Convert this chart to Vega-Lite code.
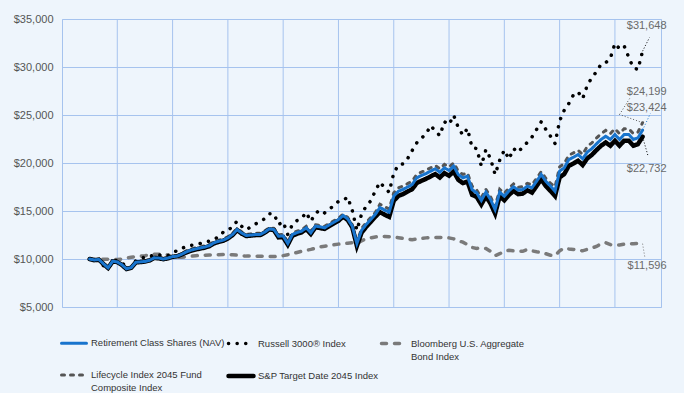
{
  "$schema": "https://vega.github.io/schema/vega-lite/v6.json",
  "width": 599,
  "height": 288,
  "autosize": {"type": "none"},
  "padding": {"left": 62, "top": 19, "right": 23, "bottom": 86},
  "background": "#eef5fc",
  "config": {
    "font": "Liberation Sans",
    "view": {"stroke": "#a6c3ee", "strokeWidth": 1},
    "legend": {
      "orient": "none",
      "direction": "horizontal",
      "legendX": -3,
      "legendY": 310,
      "columns": 3,
      "columnPadding": -6,
      "rowPadding": 0,
      "symbolType": "stroke",
      "symbolSize": 625,
      "labelFont": "Liberation Sans",
      "labelFontSize": 9.5,
      "labelColor": "#333333",
      "labelOffset": 2,
      "labelLimit": 300
    }
  },
  "datasets": {
    "grid": [{"m": 6}, {"m": 18}, {"m": 30}, {"m": 42}, {"m": 54}, {"m": 66}, {"m": 78}, {"m": 90}, {"m": 102}, {"m": 114}],
    "leaders": [
      {"s": "rus", "m": 120, "v": 31648, "m2": 121.5, "v2": 33073},
      {"s": "lc", "m": 120, "v": 24199, "m2": 115.0, "v2": 25052},
      {"s": "lc", "m": 115.0, "v": 25052, "m2": 117.2, "v2": 26719},
      {"s": "ret", "m": 120, "v": 23424, "m2": 121.7, "v2": 25156},
      {"s": "sp", "m": 120, "v": 22732, "m2": 121.2, "v2": 20708},
      {"s": "bbg", "m": 120, "v": 11596, "m2": 120.5, "v2": 10156}
    ],
    "ends": [
      {"m": 125.2, "v": 34220, "t": "$31,648"},
      {"m": 125.2, "v": 27375, "t": "$24,199"},
      {"m": 125.2, "v": 25780, "t": "$23,424"},
      {"m": 125.2, "v": 19427, "t": "$22,732"},
      {"m": 125.2, "v": 9219, "t": "$11,596"}
    ],
    "series": [
      {"m":0,"ret":10000,"rus":10000,"bbg":10000,"lc":10000,"sp":10000},
      {"m":1,"ret":9900,"rus":9750,"bbg":9960,"lc":9950,"sp":9880},
      {"m":2,"ret":9950,"rus":9900,"bbg":9950,"lc":10000,"sp":9930},
      {"m":3,"ret":9500,"rus":9300,"bbg":9970,"lc":9550,"sp":9480},
      {"m":4,"ret":9080,"rus":9050,"bbg":9980,"lc":9130,"sp":9060},
      {"m":5,"ret":9770,"rus":9800,"bbg":9960,"lc":9820,"sp":9750},
      {"m":6,"ret":9700,"rus":9850,"bbg":9950,"lc":9750,"sp":9680},
      {"m":7,"ret":9400,"rus":9650,"bbg":10000,"lc":9450,"sp":9380},
      {"m":8,"ret":8980,"rus":9100,"bbg":10100,"lc":9030,"sp":8960},
      {"m":9,"ret":9100,"rus":9100,"bbg":10180,"lc":9150,"sp":9080},
      {"m":10,"ret":9660,"rus":9800,"bbg":10250,"lc":9710,"sp":9640},
      {"m":11,"ret":9700,"rus":9950,"bbg":10300,"lc":9750,"sp":9680},
      {"m":12,"ret":9750,"rus":10250,"bbg":10350,"lc":9800,"sp":9730},
      {"m":13,"ret":9870,"rus":10350,"bbg":10430,"lc":9920,"sp":9850},
      {"m":14,"ret":10120,"rus":10300,"bbg":10500,"lc":10170,"sp":10100},
      {"m":15,"ret":10100,"rus":10430,"bbg":10500,"lc":10150,"sp":10080},
      {"m":16,"ret":10000,"rus":10300,"bbg":10480,"lc":10050,"sp":9980},
      {"m":17,"ret":10100,"rus":10350,"bbg":10450,"lc":10150,"sp":10080},
      {"m":18,"ret":10250,"rus":10600,"bbg":10150,"lc":10300,"sp":10230},
      {"m":19,"ret":10300,"rus":10900,"bbg":10160,"lc":10350,"sp":10280},
      {"m":20,"ret":10500,"rus":11100,"bbg":10180,"lc":10550,"sp":10480},
      {"m":21,"ret":10750,"rus":11300,"bbg":10250,"lc":10870,"sp":10690},
      {"m":22,"ret":10920,"rus":11430,"bbg":10300,"lc":11040,"sp":10860},
      {"m":23,"ret":11050,"rus":11500,"bbg":10340,"lc":11170,"sp":10990},
      {"m":24,"ret":11150,"rus":11620,"bbg":10380,"lc":11270,"sp":11090},
      {"m":25,"ret":11250,"rus":11800,"bbg":10400,"lc":11370,"sp":11190},
      {"m":26,"ret":11400,"rus":11850,"bbg":10420,"lc":11520,"sp":11340},
      {"m":27,"ret":11690,"rus":12050,"bbg":10440,"lc":11810,"sp":11630},
      {"m":28,"ret":11850,"rus":12300,"bbg":10450,"lc":11970,"sp":11790},
      {"m":29,"ret":11960,"rus":12800,"bbg":10470,"lc":12080,"sp":11900},
      {"m":30,"ret":12200,"rus":12950,"bbg":10480,"lc":12320,"sp":12140},
      {"m":31,"ret":12550,"rus":13400,"bbg":10440,"lc":12670,"sp":12490},
      {"m":32,"ret":13070,"rus":13940,"bbg":10400,"lc":13190,"sp":13010},
      {"m":33,"ret":12700,"rus":13400,"bbg":10350,"lc":12820,"sp":12640},
      {"m":34,"ret":12450,"rus":13050,"bbg":10300,"lc":12570,"sp":12390},
      {"m":35,"ret":12500,"rus":13350,"bbg":10300,"lc":12620,"sp":12440},
      {"m":36,"ret":12550,"rus":13650,"bbg":10300,"lc":12670,"sp":12490},
      {"m":37,"ret":12550,"rus":13900,"bbg":10290,"lc":12670,"sp":12490},
      {"m":38,"ret":12800,"rus":14200,"bbg":10280,"lc":12920,"sp":12740},
      {"m":39,"ret":13140,"rus":14710,"bbg":10260,"lc":13260,"sp":13080},
      {"m":40,"ret":13070,"rus":14700,"bbg":10250,"lc":13190,"sp":13010},
      {"m":41,"ret":12370,"rus":13590,"bbg":10300,"lc":12520,"sp":12250},
      {"m":42,"ret":12400,"rus":13880,"bbg":10350,"lc":12550,"sp":12280},
      {"m":43,"ret":11610,"rus":12550,"bbg":10450,"lc":11760,"sp":11490},
      {"m":44,"ret":12550,"rus":13590,"bbg":10550,"lc":12700,"sp":12430},
      {"m":45,"ret":12750,"rus":14000,"bbg":10680,"lc":12900,"sp":12630},
      {"m":46,"ret":12900,"rus":14220,"bbg":10800,"lc":13050,"sp":12780},
      {"m":47,"ret":13250,"rus":14850,"bbg":10900,"lc":13400,"sp":13130},
      {"m":48,"ret":12730,"rus":13920,"bbg":11000,"lc":12880,"sp":12610},
      {"m":49,"ret":13420,"rus":14750,"bbg":11130,"lc":13570,"sp":13300},
      {"m":50,"ret":13350,"rus":15100,"bbg":11250,"lc":13500,"sp":13230},
      {"m":51,"ret":13250,"rus":14810,"bbg":11330,"lc":13400,"sp":13130},
      {"m":52,"ret":13550,"rus":15150,"bbg":11400,"lc":13700,"sp":13430},
      {"m":53,"ret":13830,"rus":15600,"bbg":11480,"lc":13980,"sp":13710},
      {"m":54,"ret":14100,"rus":16000,"bbg":11550,"lc":14250,"sp":13980},
      {"m":55,"ret":14530,"rus":16100,"bbg":11600,"lc":14680,"sp":14410},
      {"m":56,"ret":14190,"rus":16450,"bbg":11650,"lc":14340,"sp":14070},
      {"m":57,"ret":13420,"rus":15050,"bbg":11700,"lc":13570,"sp":13300},
      {"m":58,"ret":11610,"rus":13000,"bbg":11600,"lc":11710,"sp":11360},
      {"m":59,"ret":12970,"rus":14650,"bbg":11900,"lc":13170,"sp":12720},
      {"m":60,"ret":13590,"rus":15500,"bbg":12100,"lc":13790,"sp":13340},
      {"m":61,"ret":14110,"rus":16050,"bbg":12200,"lc":14310,"sp":13860},
      {"m":62,"ret":14650,"rus":17100,"bbg":12300,"lc":14850,"sp":14400},
      {"m":63,"ret":15360,"rus":18000,"bbg":12330,"lc":15710,"sp":14880},
      {"m":64,"ret":15100,"rus":17420,"bbg":12350,"lc":15450,"sp":14620},
      {"m":65,"ret":14870,"rus":16960,"bbg":12320,"lc":15220,"sp":14390},
      {"m":66,"ret":16540,"rus":18950,"bbg":12300,"lc":16890,"sp":16060},
      {"m":67,"ret":17060,"rus":19800,"bbg":12220,"lc":17410,"sp":16580},
      {"m":68,"ret":17240,"rus":19900,"bbg":12150,"lc":17590,"sp":16760},
      {"m":69,"ret":17500,"rus":20450,"bbg":12080,"lc":17850,"sp":17020},
      {"m":70,"ret":17760,"rus":21300,"bbg":12000,"lc":18110,"sp":17280},
      {"m":71,"ret":18460,"rus":22100,"bbg":12080,"lc":18810,"sp":17910},
      {"m":72,"ret":18700,"rus":22600,"bbg":12150,"lc":19050,"sp":18150},
      {"m":73,"ret":18900,"rus":23000,"bbg":12200,"lc":19250,"sp":18350},
      {"m":74,"ret":19150,"rus":23900,"bbg":12250,"lc":19500,"sp":18600},
      {"m":75,"ret":19400,"rus":23350,"bbg":12250,"lc":19750,"sp":18850},
      {"m":76,"ret":19040,"rus":22850,"bbg":12250,"lc":19390,"sp":18490},
      {"m":77,"ret":19500,"rus":24300,"bbg":12230,"lc":19850,"sp":18950},
      {"m":78,"ret":19220,"rus":24000,"bbg":12200,"lc":19570,"sp":18670},
      {"m":79,"ret":19670,"rus":24980,"bbg":12100,"lc":20020,"sp":19120},
      {"m":80,"ret":18800,"rus":23700,"bbg":11900,"lc":19150,"sp":18250},
      {"m":81,"ret":18460,"rus":22900,"bbg":11750,"lc":18810,"sp":17910},
      {"m":82,"ret":18620,"rus":23600,"bbg":11500,"lc":18970,"sp":18070},
      {"m":83,"ret":17240,"rus":21600,"bbg":11200,"lc":17590,"sp":16690},
      {"m":84,"ret":16890,"rus":21500,"bbg":11100,"lc":17190,"sp":16470},
      {"m":85,"ret":16100,"rus":19700,"bbg":11150,"lc":16400,"sp":15680},
      {"m":86,"ret":16960,"rus":21400,"bbg":11100,"lc":17260,"sp":16540},
      {"m":87,"ret":16200,"rus":20450,"bbg":10800,"lc":16500,"sp":15780},
      {"m":88,"ret":15150,"rus":18800,"bbg":10350,"lc":15450,"sp":14730},
      {"m":89,"ret":16960,"rus":20300,"bbg":10550,"lc":17260,"sp":16540},
      {"m":90,"ret":16540,"rus":21350,"bbg":10800,"lc":16840,"sp":16120},
      {"m":91,"ret":17100,"rus":20400,"bbg":10900,"lc":17400,"sp":16680},
      {"m":92,"ret":17520,"rus":21500,"bbg":10850,"lc":17820,"sp":17100},
      {"m":93,"ret":17170,"rus":21100,"bbg":10820,"lc":17470,"sp":16750},
      {"m":94,"ret":17240,"rus":21700,"bbg":10800,"lc":17540,"sp":16820},
      {"m":95,"ret":17580,"rus":22150,"bbg":11000,"lc":17880,"sp":17160},
      {"m":96,"ret":17420,"rus":22700,"bbg":10850,"lc":17720,"sp":16920},
      {"m":97,"ret":18100,"rus":23500,"bbg":10750,"lc":18400,"sp":17600},
      {"m":98,"ret":18800,"rus":24290,"bbg":10700,"lc":19100,"sp":18300},
      {"m":99,"ret":18100,"rus":23500,"bbg":10550,"lc":18400,"sp":17600},
      {"m":100,"ret":17600,"rus":22800,"bbg":10400,"lc":17900,"sp":17100},
      {"m":101,"ret":17060,"rus":22030,"bbg":10350,"lc":17510,"sp":16560},
      {"m":102,"ret":19150,"rus":24400,"bbg":10850,"lc":19600,"sp":18500},
      {"m":103,"ret":19500,"rus":25500,"bbg":11150,"lc":19950,"sp":18850},
      {"m":104,"ret":20360,"rus":26200,"bbg":11050,"lc":20810,"sp":19710},
      {"m":105,"ret":20600,"rus":27100,"bbg":11000,"lc":21050,"sp":19950},
      {"m":106,"ret":20880,"rus":27400,"bbg":10900,"lc":21330,"sp":20230},
      {"m":107,"ret":20440,"rus":26700,"bbg":10850,"lc":20890,"sp":19790},
      {"m":108,"ret":21130,"rus":28100,"bbg":11000,"lc":21730,"sp":20480},
      {"m":109,"ret":21500,"rus":28900,"bbg":11150,"lc":22100,"sp":20850},
      {"m":110,"ret":22000,"rus":29500,"bbg":11300,"lc":22600,"sp":21350},
      {"m":111,"ret":22450,"rus":30300,"bbg":11600,"lc":23050,"sp":21800},
      {"m":112,"ret":22790,"rus":30450,"bbg":11700,"lc":23390,"sp":22140},
      {"m":113,"ret":22450,"rus":30900,"bbg":11500,"lc":23050,"sp":21800},
      {"m":114,"ret":22970,"rus":32450,"bbg":11450,"lc":23570,"sp":22320},
      {"m":115,"ret":22450,"rus":31900,"bbg":11450,"lc":23050,"sp":21800},
      {"m":116,"ret":22970,"rus":32200,"bbg":11550,"lc":23570,"sp":22320},
      {"m":117,"ret":22970,"rus":31000,"bbg":11600,"lc":23570,"sp":22320},
      {"m":118,"ret":22450,"rus":29920,"bbg":11600,"lc":23050,"sp":21800},
      {"m":119,"ret":22620,"rus":29740,"bbg":11620,"lc":23220,"sp":21970},
      {"m":120,"ret":23424,"rus":31648,"bbg":11596,"lc":24199,"sp":22732}
    ]
  },
  "layer": [
    {
      "data": {"name": "grid"},
      "mark": {"type": "rule", "color": "#a6c3ee", "strokeWidth": 1},
      "encoding": {
        "x": {"field": "m", "type": "quantitative", "scale": {"domain": [-6, 124], "nice": false, "zero": false}, "axis": null}
      }
    },
    {
      "data": {"name": "series"},
      "transform": [{"fold": ["bbg", "rus", "lc", "sp", "ret"], "as": ["s", "v"]}],
      "mark": {"type": "line", "strokeJoin": "miter", "strokeCap": "round", "clip": false},
      "encoding": {
        "x": {
          "field": "m", "type": "quantitative",
          "scale": {"domain": [-6, 124], "nice": false, "zero": false},
          "axis": {
            "title": null, "values": [0, 12, 24, 36, 48, 60, 72, 84, 96, 108, 120],
            "labelExpr": "'5/' + (15 + datum.value / 12)",
            "grid": false, "ticks": false, "domainColor": "#9a9a9a", "domainWidth": 1.5,
            "labelPadding": 9, "labelFontSize": 11, "labelColor": "#555555", "zindex": 1
          }
        },
        "y": {
          "field": "v", "type": "quantitative",
          "scale": {"domain": [5000, 35000], "nice": false, "zero": false},
          "axis": {
            "title": null, "values": [5000, 10000, 15000, 20000, 25000, 30000, 35000],
            "format": "$,.0f", "grid": true, "gridColor": "#a6c3ee", "gridWidth": 1,
            "domain": false, "ticks": false, "labelPadding": 9, "labelFontSize": 11, "labelColor": "#555555"
          }
        },
        "color": {
          "field": "s", "type": "nominal",
          "scale": {"domain": ["ret", "rus", "bbg", "lc", "sp"], "range": ["#1874cd", "#000000", "#7a7a7a", "#555555", "#000000"]},
          "legend": {"title": null, "encode": {"symbols": {"update": {"strokeCap": {"value": "round"}}}, "labels": {"update": {"lineHeight": {"value": 13}}}}, "labelExpr": "datum.value == 'ret' ? ['Retirement Class Shares (NAV)', ' '] : datum.value == 'rus' ? ['Russell 3000® Index', ' '] : datum.value == 'bbg' ? ['Bloomberg U.S. Aggregate', 'Bond Index'] : datum.value == 'lc' ? ['Lifecycle Index 2045 Fund', 'Composite Index'] : ['S&P Target Date 2045 Index', ' ']"}
        },
        "strokeDash": {
          "field": "s", "type": "nominal",
          "scale": {"domain": ["ret", "rus", "bbg", "lc", "sp"], "range": [[1, 0], [0.1, 8.5], [5, 8], [3, 6], [1, 0]]},
          "legend": {"title": null, "encode": {"symbols": {"update": {"strokeCap": {"value": "round"}}}, "labels": {"update": {"lineHeight": {"value": 13}}}}, "labelExpr": "datum.value == 'ret' ? ['Retirement Class Shares (NAV)', ' '] : datum.value == 'rus' ? ['Russell 3000® Index', ' '] : datum.value == 'bbg' ? ['Bloomberg U.S. Aggregate', 'Bond Index'] : datum.value == 'lc' ? ['Lifecycle Index 2045 Fund', 'Composite Index'] : ['S&P Target Date 2045 Index', ' ']"}
        },
        "strokeWidth": {
          "field": "s", "type": "nominal",
          "scale": {"type": "ordinal", "domain": ["ret", "rus", "bbg", "lc", "sp"], "range": [3, 3.5, 3.5, 3, 4.5]},
          "legend": {"title": null, "encode": {"symbols": {"update": {"strokeCap": {"value": "round"}}}, "labels": {"update": {"lineHeight": {"value": 13}}}}, "labelExpr": "datum.value == 'ret' ? ['Retirement Class Shares (NAV)', ' '] : datum.value == 'rus' ? ['Russell 3000® Index', ' '] : datum.value == 'bbg' ? ['Bloomberg U.S. Aggregate', 'Bond Index'] : datum.value == 'lc' ? ['Lifecycle Index 2045 Fund', 'Composite Index'] : ['S&P Target Date 2045 Index', ' ']"}
        }
      }
    },
    {
      "data": {"name": "leaders"},
      "mark": {"type": "rule", "strokeDash": [1, 2], "strokeWidth": 1, "clip": false},
      "encoding": {
        "x": {"field": "m", "type": "quantitative"},
        "y": {"field": "v", "type": "quantitative"},
        "x2": {"field": "m2"},
        "y2": {"field": "v2"},
        "color": {"field": "s", "type": "nominal", "legend": null}
      }
    },
    {
      "data": {"name": "ends"},
      "mark": {"type": "text", "align": "right", "baseline": "middle", "fontSize": 11, "color": "#6a6a6a", "clip": false},
      "encoding": {
        "x": {"field": "m", "type": "quantitative"},
        "y": {"field": "v", "type": "quantitative"},
        "text": {"field": "t", "type": "nominal"}
      }
    }
  ]
}
